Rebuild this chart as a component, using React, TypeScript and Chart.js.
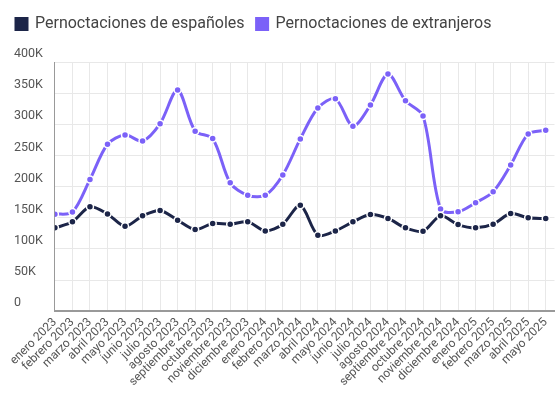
import React, { useEffect, useRef } from "react";
import { Chart, registerables } from "chart.js";

Chart.register(...registerables);

const categories = [
  "enero 2023", "febrero 2023", "marzo 2023", "abril 2023", "mayo 2023", "junio 2023",
  "julio 2023", "agosto 2023", "septiembre 2023", "octubre 2023", "noviembre 2023", "diciembre 2023",
  "enero 2024", "febrero 2024", "marzo 2024", "abril 2024", "mayo 2024", "junio 2024",
  "julio 2024", "agosto 2024", "septiembre 2024", "octubre 2024", "noviembre 2024", "diciembre 2024",
  "enero 2025", "febrero 2025", "marzo 2025", "abril 2025", "mayo 2025",
];

const espanoles = [
  133700, 143400, 167500, 156000, 136400, 153000, 161600, 146000, 131000, 140700, 139600, 143400,
  128800, 139600, 170000, 122000, 128800, 143400, 155000, 148800, 133700, 128300, 153000, 139000,
  133700, 139600, 156800, 149800, 148800,
];

const extranjeros = [
  155700, 159000, 211500, 268000, 283000, 273000, 301000, 355000, 289000, 277000, 206000, 186000,
  186000, 218500, 276500, 326000, 341000, 297000, 331000, 380600, 337700, 313500, 163800, 159500,
  174000, 191700, 234600, 284500, 290500,
];

const yTicks = ["0", "50K", "100K", "150K", "200K", "250K", "300K", "350K", "400K"];

const NAVY = "#1c2548";
const PURPLE = "#7b61f8";

const legendSpacing = {
  id: "legendSpacing",
  beforeInit(chart: any) {
    const legend = chart.legend;
    if (!legend) return;
    const orig = legend.fit;
    legend.fit = function () {
      orig.call(this);
      this.height += 20;
    };
  },
  afterLayout(chart: any) {
    if (chart.legend) chart.legend.left -= 10;
  },
};

export default function App() {
  const ref = useRef<HTMLCanvasElement | null>(null);
  useEffect(() => {
    document.body.style.margin = "0";
    const ctx = ref.current!;
    const ds = (label: string, data: number[], color: string) => ({
      label,
      data: data.map((v, i) => ({ x: i, y: v })),
      borderColor: color,
      backgroundColor: color,
      borderWidth: 3,
      pointRadius: 3.5,
      pointBackgroundColor: color,
      pointBorderColor: "#ffffff",
      pointBorderWidth: 1.5,
      tension: 0.3,
    });
    const chart = new Chart(ctx, {
      type: "line",
      data: {
        datasets: [
          ds("Pernoctaciones de españoles", espanoles, NAVY),
          ds("Pernoctaciones de extranjeros", extranjeros, PURPLE),
        ],
      },
      plugins: [legendSpacing],
      options: {
        animation: false,
        responsive: false,
        maintainAspectRatio: false,
        layout: { padding: { left: 14, right: 3, top: 4, bottom: 4 } },
        plugins: {
          legend: {
            display: true,
            position: "top",
            align: "start",
            labels: {
              boxWidth: 11,
              boxHeight: 11,
              padding: 12,
              color: "#444",
              font: { family: "Roboto", size: 16 },
            },
          },
          tooltip: { enabled: false },
        },
        scales: {
          x: {
            type: "linear",
            min: 0,
            max: categories.length - 0.5,
            grid: { color: "#e8e8e8", drawTicks: false },
            border: { color: "#999", width: 2 },
            ticks: {
              stepSize: 1,
              includeBounds: false,
              autoSkip: false,
              maxRotation: 45,
              minRotation: 45,
              color: "#555",
              padding: 4,
              font: { family: "Roboto", size: 12 },
              callback: (v: any) => {
                const i = Number(v);
                return Number.isInteger(i) ? categories[i] ?? "" : "";
              },
            },
          },
          y: {
            min: 0,
            max: 400000,
            grid: { color: "#e8e8e8", drawTicks: false },
            border: { color: "#999", width: 1 },
            ticks: {
              stepSize: 50000,
              crossAlign: "far",
              labelOffset: -8,
              padding: 6,
              color: "#555",
              font: { family: "Roboto", size: 12.5 },
              callback: (v: any) => yTicks[Math.round(Number(v) / 50000)],
            },
          },
        },
      },
    });
    return () => chart.destroy();
  }, []);
  return (
    <div style={{ width: 560, height: 397 }}>
      <canvas ref={ref} width={560} height={397} style={{ width: 560, height: 397 }} />
    </div>
  );
}
